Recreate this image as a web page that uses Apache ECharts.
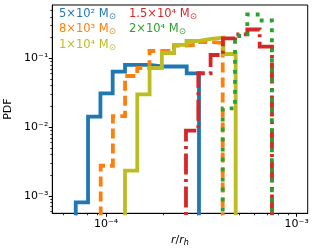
<!DOCTYPE html>
<html><head><meta charset="utf-8">
<script src="https://cdn.jsdelivr.net/npm/echarts@6/dist/echarts.min.js"></script>
<style>html,body{margin:0;padding:0;background:#fff}#c{width:316px;height:250px}</style>
</head><body><div id="c"></div>
<script>
// ---- data ----
const seriesNames = ['5×10² M⊙', '8×10³ M⊙', '1×10⁴ M⊙', '1.5×10⁴ M⊙', '2×10⁴ M⊙'];
const seriesColors = ['#1f77b4', '#ff7f0e', '#bcbd22', '#d62728', '#2ca02c'];

const edges5e2 = [6.94e-5, 8.05e-5, 9.35e-5, 1.084e-4, 1.258e-4, 1.461e-4, 1.695e-4, 1.966e-4, 2.284e-4, 2.650e-4, 3.074e-4];
const pdf5e2   = [8.1e-4, 0.0142, 0.0310, 0.0639, 0.0800, 0.0800, 0.0760, 0.0760, 0.0760, 0.0602];

const edges8e3 = [9.38e-5, 1.087e-4, 1.259e-4, 1.459e-4, 1.691e-4, 1.959e-4, 2.271e-4, 2.630e-4, 3.049e-4, 3.532e-4, 4.093e-4];
const pdf8e3   = [2.75e-3, 0.0145, 0.0553, 0.0723, 0.1276, 0.1276, 0.1534, 0.1586, 0.1724, 0.1668];

const edges1e4 = [1.258e-4, 1.459e-4, 1.693e-4, 1.964e-4, 2.279e-4, 2.643e-4, 3.067e-4, 3.558e-4, 4.127e-4, 4.788e-4];
const pdf1e4   = [2.33e-3, 0.0300, 0.0723, 0.1194, 0.1561, 0.1784, 0.1907, 0.1991, 0.1155];

const edges15e4 = [2.627e-4, 3.049e-4, 3.536e-4, 4.102e-4, 4.753e-4, 5.513e-4, 6.397e-4, 7.421e-4];
const pdf15e4   = [8.88e-3, 0.0606, 0.1117, 0.1952, 0.2232, 0.2620, 0.1474];

const edges2e4 = [4.093e-4, 4.748e-4, 5.507e-4, 6.390e-4, 7.413e-4];
const pdf2e4   = [0.0187, 0.2108, 0.4327, 0.3540];

const xTickValues = [1e-4, 1e-3];
const xTickLabels = ['10⁻⁴', '10⁻³'];
const xMinorTicks = [6e-5, 7e-5, 8e-5, 9e-5, 2e-4, 3e-4, 4e-4, 5e-4, 6e-4, 7e-4, 8e-4, 9e-4];
const yTickValues = [1e-3, 1e-2, 1e-1];
const yTickLabels = ['10⁻³', '10⁻²', '10⁻¹'];
const yMinorTicks = [6e-4, 7e-4, 8e-4, 9e-4, 2e-3, 3e-3, 4e-3, 5e-3, 6e-3, 7e-3, 8e-3, 9e-3,
                     2e-2, 3e-2, 4e-2, 5e-2, 6e-2, 7e-2, 8e-2, 9e-2, 2e-1, 3e-1, 4e-1, 5e-1];
const xRange = [5.229e-5, 1.1423e-3];
const yRange = [5.606e-4, 0.5942];

// ---- build ----
const FLOOR = 1e-7;
function stepPts(edges, vals) {
  const pts = [[edges[0], FLOOR]];
  for (let i = 0; i < vals.length; i++) {
    pts.push([edges[i], vals[i]]);
    pts.push([edges[i + 1], vals[i]]);
  }
  pts.push([edges[edges.length - 1], FLOOR]);
  return pts;
}
const allEdges = [edges5e2, edges8e3, edges1e4, edges15e4, edges2e4];
const allPdf = [pdf5e2, pdf8e3, pdf1e4, pdf15e4, pdf2e4];
const dashes = [null, [10, 5], null, [21, 4.5, 3, 4.5], [3.8, 6.2]];

function labelFor(values, labels) {
  return function (v) {
    let best = 0, bd = Infinity;
    values.forEach((t, i) => { const d = Math.abs(Math.log10(v) - Math.log10(t)); if (d < bd) { bd = d; best = i; } });
    return labels[best];
  };
}
const FONT = 'DejaVu Sans';
const subRich = {
  i: { fontStyle: 'italic', fontSize: 11, lineHeight: 13, verticalAlign: 'top', fontFamily: FONT, color: '#000' },
  s: { fontStyle: 'italic', fontSize: 8, lineHeight: 10, padding: [5, 0, 0, 0], verticalAlign: 'bottom', fontFamily: FONT, color: '#000' }
};
function legendRich() {
  return {
    m: { fontSize: 11.5, lineHeight: 13, verticalAlign: 'top', fontFamily: FONT },
    s: { fontSize: 8.5, lineHeight: 10, padding: [5, 0, 0, 0], verticalAlign: 'bottom', fontFamily: FONT }
  };
}
function legendFmt(name) {
  return '{m|' + name.replace(' M⊙', ' M') + '}{s|⊙}';
}
function mkLegend(names, left) {
  return {
    orient: 'vertical', left: left, top: 7, itemWidth: 0, itemHeight: 0, itemGap: 1.5,
    selectedMode: false, padding: 0,
    data: names.map(n => ({ name: n, icon: 'rect', textStyle: { color: seriesColors[seriesNames.indexOf(n)] } })),
    formatter: legendFmt,
    textStyle: { fontSize: 11.5, fontFamily: FONT, rich: legendRich() }
  };
}

const series = allEdges.map((e, k) => ({
  name: seriesNames[k], type: 'line', xAxisIndex: 0, yAxisIndex: 0,
  data: stepPts(e, allPdf[k]), symbol: 'none', clip: true, z: 2 + k,
  lineStyle: { color: seriesColors[k], width: 3.8, type: dashes[k] || 'solid', cap: 'butt', join: 'miter' },
  itemStyle: { color: seriesColors[k] }
}));

const axisText = { fontSize: 11, color: '#000', fontFamily: FONT };
const option = {
  animation: false,
  backgroundColor: '#fff',
  grid: { left: 52.3, right: 8.3, top: 5, bottom: 36.7, show: true, borderColor: '#000', borderWidth: 1, containLabel: false, outerBoundsMode: 'none' },
  legend: [mkLegend(seriesNames.slice(0, 3), 54), mkLegend(seriesNames.slice(3), 124)],
  xAxis: [
    { type: 'log', logBase: 10, min: xRange[0], max: xRange[1], position: 'bottom',
      axisLine: { show: true, lineStyle: { color: '#000', width: 1 } },
      axisTick: { show: true, customValues: xTickValues, length: 3.5, lineStyle: { color: '#000', width: 1 } },
      axisLabel: Object.assign({ customValues: xTickValues, formatter: labelFor(xTickValues, xTickLabels), margin: 5 }, axisText),
      splitLine: { show: false }, minorTick: { show: false },
      name: '{i|r}{n|/}{i|r}{s|h}', nameLocation: 'middle', nameGap: 18,
      nameTextStyle: { rich: Object.assign({ n: { fontSize: 11, lineHeight: 13, verticalAlign: 'top', fontFamily: FONT, color: '#000' } }, subRich) } },
    { type: 'log', logBase: 10, min: xRange[0], max: xRange[1], position: 'bottom', gridIndex: 0,
      axisLine: { show: false },
      axisTick: { show: true, customValues: xMinorTicks, length: 2, lineStyle: { color: '#000', width: 0.8 } },
      axisLabel: { show: false }, splitLine: { show: false } }
  ],
  yAxis: [
    { type: 'log', logBase: 10, min: yRange[0], max: yRange[1], position: 'left',
      axisLine: { show: true, lineStyle: { color: '#000', width: 1 } },
      axisTick: { show: true, customValues: yTickValues, length: 3.5, lineStyle: { color: '#000', width: 1 } },
      axisLabel: Object.assign({ customValues: yTickValues, formatter: labelFor(yTickValues, yTickLabels), margin: 4 }, axisText),
      splitLine: { show: false }, minorTick: { show: false },
      name: 'PDF', nameLocation: 'middle', nameGap: 34, nameTextStyle: axisText },
    { type: 'log', logBase: 10, min: yRange[0], max: yRange[1], position: 'left', gridIndex: 0,
      axisLine: { show: false },
      axisTick: { show: true, customValues: yMinorTicks, length: 2, lineStyle: { color: '#000', width: 0.8 } },
      axisLabel: { show: false }, splitLine: { show: false } }
  ],
  series: series
};
const chart = echarts.init(document.getElementById('c'), null, { renderer: 'canvas' });
chart.setOption(option);
</script>
</body></html>
